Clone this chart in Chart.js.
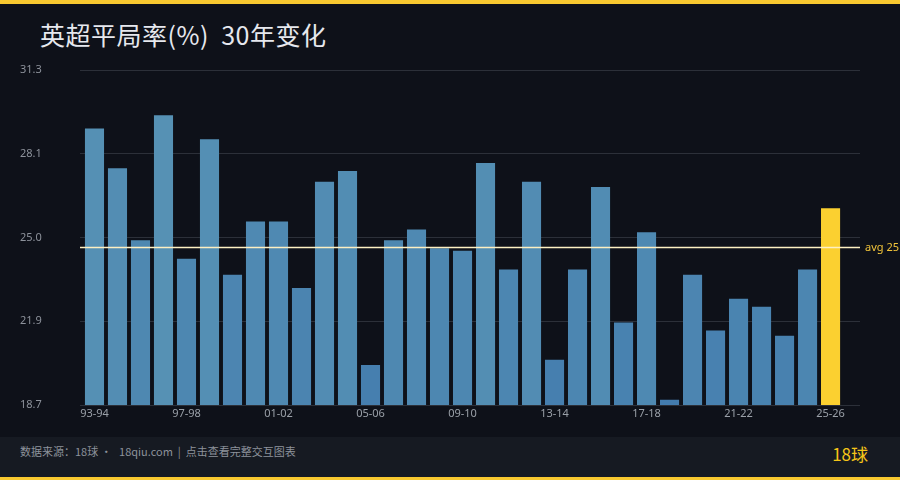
<!DOCTYPE html>
<html>
<head>
<meta charset="utf-8">
<script src="https://cdn.jsdelivr.net/npm/chart.js@4"></script>
<style>
  html,body{margin:0;padding:0;}
  body{width:900px;height:480px;background:#0e1119;position:relative;overflow:hidden;font-family:"Noto Sans CJK SC","Noto Sans",sans-serif;}
  .topbar{position:absolute;left:0;top:0;width:900px;height:4px;background:#f8c930;}
  .title{position:absolute;left:40px;top:16px;font-size:25px;color:#e6e8ee;letter-spacing:0.5px;white-space:pre;}
  .footer{position:absolute;left:0;top:437px;width:900px;height:40px;background:#161a22;}
  .bottombar{position:absolute;left:0;top:477px;width:900px;height:3px;background:#f8c930;}
  .src{position:absolute;left:20px;top:443px;font-size:11px;color:#8d929b;white-space:pre;}
  .brand{position:absolute;right:32px;top:441px;font-size:17px;color:#f5c518;}
  #wrap{position:absolute;left:0;top:0;width:900px;height:480px;}
</style>
</head>
<body>
<div class="topbar"></div>
<div class="title">英超平局率(%)  30年变化</div>
<div class="footer"></div>
<div class="bottombar"></div>
<div class="src">数据来源：18球 ·   18qiu.com  |  点击查看完整交互图表</div>
<div class="brand">18球</div>
<div id="wrap"><canvas id="draw-rate-chart" width="900" height="480"></canvas></div>
<script>
const seasons=['93-94','94-95','95-96','96-97','97-98','98-99','99-00','00-01','01-02','02-03',
  '03-04','04-05','05-06','06-07','07-08','08-09','09-10','10-11','11-12','12-13',
  '13-14','14-15','15-16','16-17','17-18','18-19','19-20','20-21','21-22','22-23',
  '23-24','24-25','25-26'];
const drawRate=[29.1,27.6,24.9,29.6,24.2,28.7,23.6,25.6,25.6,23.1,
  27.1,27.5,20.2,24.9,25.3,24.6,24.5,27.8,23.8,27.1,
  20.4,23.8,26.9,21.8,25.2,18.9,23.6,21.5,22.7,22.4,
  21.3,23.8,26.1];
const yTicks=[18.7,21.85,25.0,28.15,31.3];
const yTickLabels=['18.7','21.9','25.0','28.1','31.3'];

const avg=drawRate.reduce((a,b)=>a+b,0)/drawRate.length;
const current=drawRate.length-1;

// bar shade: lower values a little deeper blue, higher a little lighter
function barColor(v,i){
  if(i===current) return '#fbd030';
  const t=Math.max(0,Math.min(1,(v-18.7)/(29.6-18.7)));
  const lo=[0x43,0x7c,0xae], hi=[0x56,0x91,0xb4];
  const c=lo.map((l,k)=>Math.round(l+(hi[k]-l)*t));
  return 'rgb('+c.join(',')+')';
}

const avgLine={
  id:'avgLine',
  afterDatasetsDraw(chart){
    const {ctx,chartArea,scales}=chart;
    const y=Math.round(scales.y.getPixelForValue(avg))+0.5;
    ctx.save();
    ctx.strokeStyle='#fdf0c2';
    ctx.lineWidth=1.5;
    ctx.beginPath();
    ctx.moveTo(chartArea.left,y);
    ctx.lineTo(chartArea.right,y);
    ctx.stroke();
    ctx.fillStyle='#f2c53a';
    ctx.font='11px "Noto Sans", sans-serif';
    ctx.textBaseline='middle';
    ctx.fillText('avg '+Math.round(avg),chartArea.right+5,y);
    ctx.restore();
  }
};

new Chart(document.getElementById('draw-rate-chart'),{
  type:'bar',
  data:{
    datasets:[{
      data:drawRate.map((v,i)=>({x:i,y:v})),
      backgroundColor:drawRate.map(barColor),
      borderWidth:0,
      barPercentage:0.83,
      categoryPercentage:1
    }]
  },
  options:{
    responsive:false,
    animation:false,
    devicePixelRatio:1,
    layout:{padding:{left:20,right:40,top:70,bottom:55}},
    plugins:{legend:{display:false},tooltip:{enabled:false}},
    scales:{
      x:{
        type:'linear',
        min:-0.63,
        max:33.28,
        offset:false,
        grid:{display:false,drawTicks:false},
        border:{display:false},
        afterFit(scale){scale.height=20;},
        ticks:{
          stepSize:4,
          includeBounds:false,
          autoSkip:false,
          maxRotation:0,
          padding:2,
          color:'#9aa0a8',
          font:{size:11,family:'"Noto Sans", sans-serif'},
          callback:(v)=>Number.isInteger(v)&&seasons[v]?seasons[v]:''
        }
      },
      y:{
        min:18.7,
        max:31.3,
        afterBuildTicks(scale){scale.ticks=yTicks.map(v=>({value:v}));},
        afterFit(scale){scale.width=60;},
        grid:{color:'#2c3039',lineWidth:1,drawTicks:false},
        border:{display:false},
        ticks:{
          crossAlign:'far',
          color:'#8d929b',
          font:{size:11,family:'"Noto Sans", sans-serif'},
          callback:(v,i)=>yTickLabels[i]
        }
      }
    }
  },
  plugins:[avgLine]
});
</script>
</body>
</html>
